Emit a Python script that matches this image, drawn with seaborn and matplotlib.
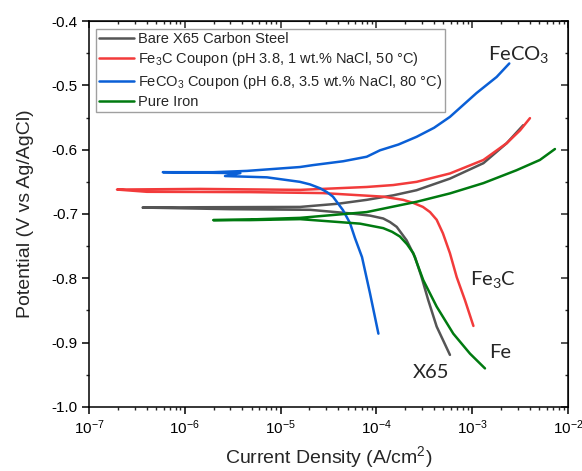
import matplotlib
matplotlib.use("Agg")
import matplotlib.pyplot as plt
import matplotlib.ticker as mticker
import pandas as pd
import seaborn as sns

# Polarization curves (cathodic end -> Ecorr tip -> anodic end)
labels = [
    "Bare X65 Carbon Steel",
    "Fe$_3$C Coupon (pH 3.8, 1 wt.% NaCl, 50 \u00b0C)",
    "FeCO$_3$ Coupon (pH 6.8, 3.5 wt.% NaCl, 80 \u00b0C)",
    "Pure Iron",
]
colors = ["#555555", "#f23b3b", "#0a5fd6", "#007a10"]

x65_i = [5.86e-4, 4.26e-4, 3.48e-4, 2.96e-4, 2.53e-4, 2.07e-4, 1.63e-4, 1.39e-4, 1.18e-4,
         8.57e-5, 5.30e-5, 2.03e-5, 2.96e-6, 3.63e-7,
         1.44e-6, 1.60e-5, 4.0e-5, 7.93e-5, 1.5e-4, 2.63e-4, 5.86e-4, 1.31e-3, 2.29e-3, 3.41e-3]
x65_e = [-0.919, -0.875, -0.834, -0.798, -0.767, -0.741, -0.720, -0.7126, -0.707,
         -0.7025, -0.699, -0.6935, -0.6925, -0.690,
         -0.6895, -0.689, -0.684, -0.678, -0.671, -0.663, -0.645, -0.621, -0.590, -0.562]

fe3c_i = [1.03e-3, 8.41e-4, 6.89e-4, 5.86e-4, 4.95e-4, 4.26e-4, 3.63e-4, 3.06e-4, 2.41e-4,
          1.90e-4, 1.17e-4, 2.77e-5, 4.80e-6, 4.03e-7, 1.96e-7,
          1.44e-6, 1.60e-5, 7.93e-5, 1.5e-4, 2.63e-4, 5.86e-4, 1.31e-3, 2.29e-3, 3.16e-3, 4.01e-3]
fe3c_e = [-0.874, -0.834, -0.798, -0.761, -0.730, -0.709, -0.697, -0.689, -0.6826,
          -0.678, -0.673, -0.6675, -0.666, -0.6655, -0.662,
          -0.661, -0.6625, -0.658, -0.655, -0.650, -0.637, -0.616, -0.590, -0.570, -0.551]

feco3_i = [1.05e-4, 8.57e-5, 7.08e-5, 5.98e-5, 5.30e-5, 4.48e-5, 3.52e-5, 3.05e-5, 2.58e-5,
           2.03e-5, 1.59e-5, 7.2e-6, 2.63e-6, 3.8e-6, 5.9e-7,
           1.97e-6, 4.46e-6, 1.59e-5, 2.18e-5, 4.5e-5, 7.93e-5, 1.09e-4, 1.7e-4, 2.63e-4,
           4.0e-4, 5.86e-4, 1.11e-3, 1.80e-3, 2.44e-3]
feco3_e = [-0.886, -0.823, -0.767, -0.7375, -0.714, -0.694, -0.673, -0.666, -0.660,
           -0.654, -0.650, -0.643, -0.641, -0.6365, -0.635,
           -0.635, -0.633, -0.627, -0.624, -0.618, -0.611, -0.601, -0.592, -0.580,
           -0.566, -0.549, -0.512, -0.487, -0.466]

fe_i = [1.36e-3, 9.48e-4, 6.35e-4, 4.26e-4, 3.09e-4, 2.43e-4, 2.09e-4, 1.76e-4, 1.46e-4,
        1.18e-4, 6.75e-5, 1.60e-5, 4.80e-6, 1.98e-6,
        4.80e-6, 1.60e-5, 7.93e-5, 2.63e-4, 5.86e-4, 1.31e-3, 2.90e-3, 5.09e-3, 7.31e-3]
fe_e = [-0.940, -0.917, -0.886, -0.844, -0.803, -0.761, -0.747, -0.735, -0.7277,
        -0.722, -0.715, -0.708, -0.7095, -0.7095,
        -0.7085, -0.706, -0.697, -0.681, -0.668, -0.652, -0.632, -0.616, -0.599]

curves = [(x65_i, x65_e), (fe3c_i, fe3c_e), (feco3_i, feco3_e), (fe_i, fe_e)]
frames = []
for name, (cur, pot) in zip(labels, curves):
    frames.append(pd.DataFrame({"i": cur, "E": pot, "sample": name}))
df = pd.concat(frames, ignore_index=True)

sns.set_style("ticks")
plt.rcParams["font.family"] = ["Liberation Sans", "DejaVu Sans"]
plt.rcParams["mathtext.default"] = "regular"
plt.rcParams["axes.unicode_minus"] = False

fig = plt.figure(figsize=(5.82, 4.71), dpi=100)
ax = fig.add_axes([0.1529, 0.1359, 0.8230, 0.8195])

sns.lineplot(data=df, x="i", y="E", hue="sample", hue_order=labels,
             palette=colors, estimator=None, sort=False, linewidth=1.8, ax=ax)

ax.set_xscale("log")
ax.set_xlim(1e-7, 1e-2)
ax.set_ylim(-1.0, -0.4)
ax.yaxis.set_major_locator(mticker.MultipleLocator(0.1))
ax.yaxis.set_minor_locator(mticker.MultipleLocator(0.05))
ax.yaxis.set_major_formatter(mticker.FormatStrFormatter("%.1f"))
ax.xaxis.set_major_locator(mticker.LogLocator(base=10, numticks=10))
ax.xaxis.set_minor_locator(mticker.LogLocator(base=10, subs=range(2, 10), numticks=10))

for sp in ax.spines.values():
    sp.set_linewidth(1.1)
    sp.set_color("black")
ax.tick_params(which="major", direction="out", length=5, width=1.1,
               labelsize=11, pad=3, colors="black")
ax.tick_params(which="minor", direction="out", length=2.5, width=1.0)

# inward ticks on top and right
top = ax.secondary_xaxis("top")
top.xaxis.set_major_locator(mticker.LogLocator(base=10, numticks=10))
top.xaxis.set_minor_locator(mticker.LogLocator(base=10, subs=range(2, 10), numticks=10))
top.tick_params(which="major", direction="in", length=5, width=1.1, labeltop=False)
top.tick_params(which="minor", direction="in", length=2.5, width=1.0)
right = ax.secondary_yaxis("right")
right.yaxis.set_major_locator(mticker.MultipleLocator(0.1))
right.yaxis.set_minor_locator(mticker.MultipleLocator(0.05))
right.tick_params(which="major", direction="in", length=5, width=1.1, labelright=False)
right.tick_params(which="minor", direction="in", length=2.5, width=1.0)

ax.set_xlabel("Current Density (A/cm$^2$)", fontsize=14, labelpad=5)
ax.set_ylabel("Potential (V vs Ag/AgCl)", fontsize=14, labelpad=13)

handles, _ = ax.get_legend_handles_labels()
leg = ax.legend(handles, labels, loc="upper left", bbox_to_anchor=(0.0146, 0.979),
                borderaxespad=0, fontsize=10.5, frameon=True, fancybox=False,
                edgecolor="#a0a0a0", framealpha=1, borderpad=0.2,
                labelspacing=0.3, handlelength=2.4, handletextpad=0.25)
leg.get_frame().set_linewidth(1.0)

note = dict(fontsize=14.5, family=["Lato", "DejaVu Sans"], ha="left", va="baseline")
ax.text(1.46e-3, -0.4607, "FeCO$_3$", **note)
ax.text(9.48e-4, -0.8106, "Fe$_3$C", **note)
ax.text(1.50e-3, -0.924, "Fe", **note)
ax.text(2.41e-4, -0.955, "X65", **note)

fig.savefig("out.png", dpi=100)
